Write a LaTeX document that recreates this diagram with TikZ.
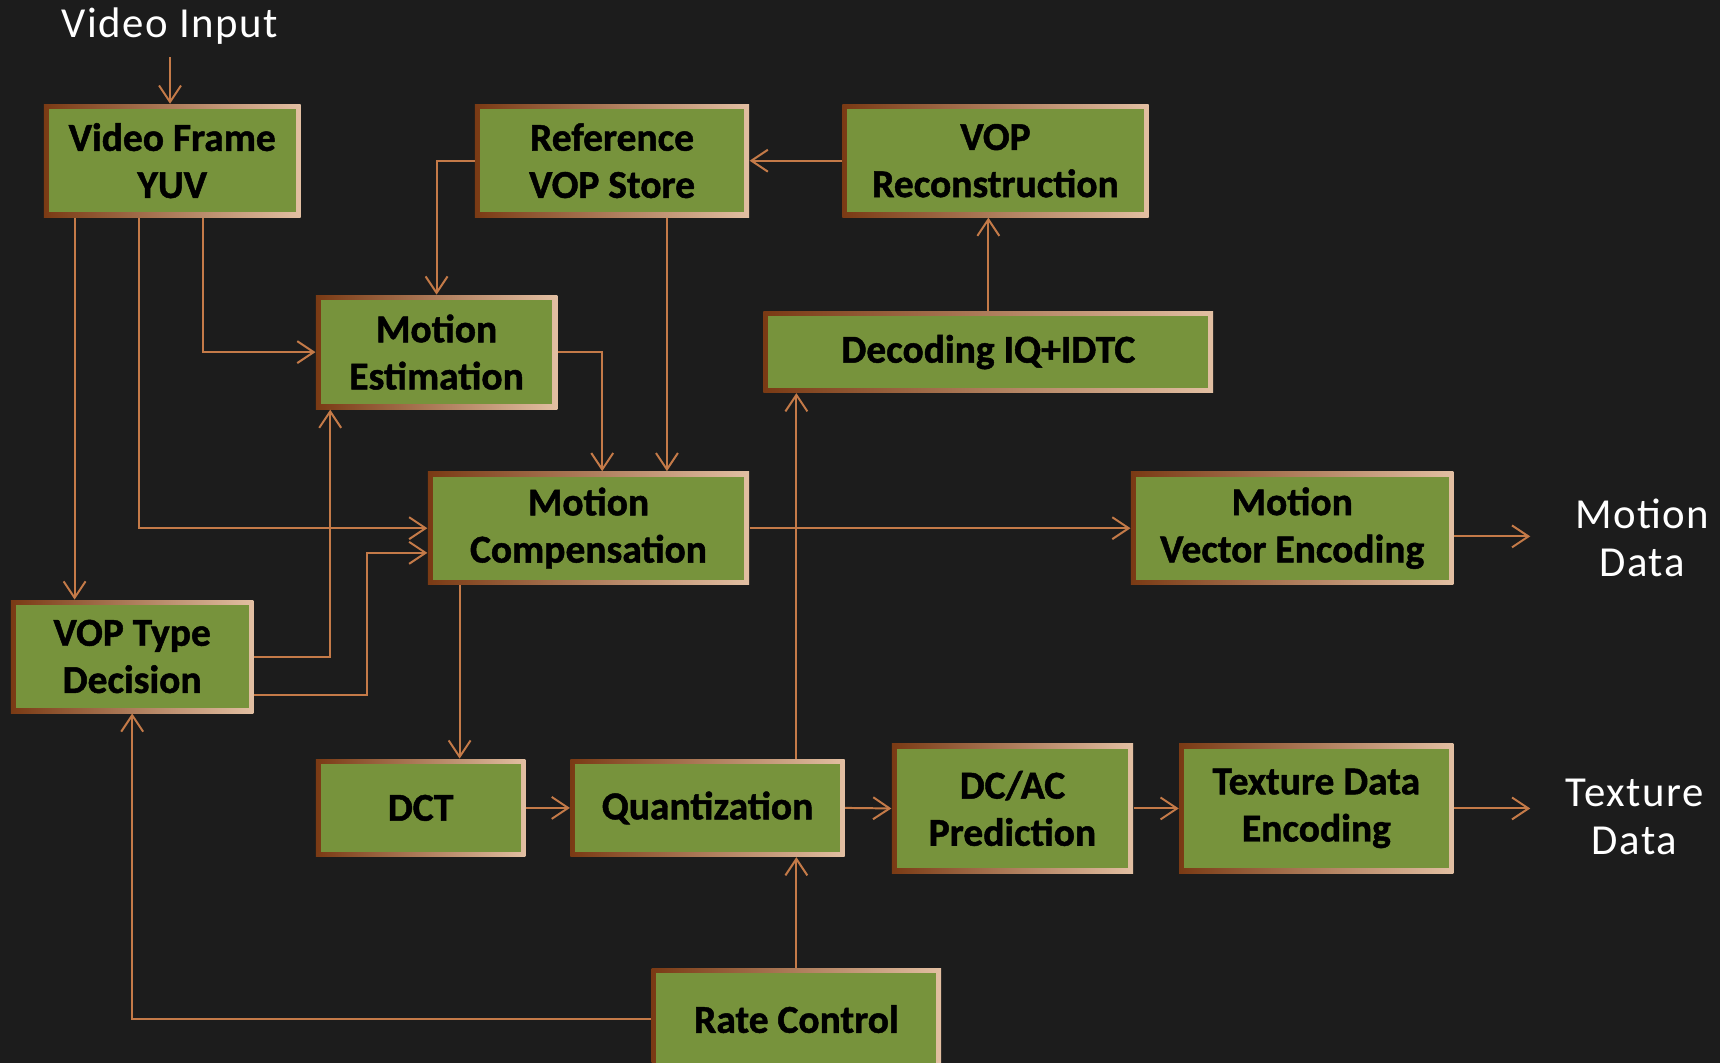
\documentclass[tikz,border=0pt]{standalone}
\usepackage{fontspec}
\setmainfont{Carlito}[BoldFeatures={FakeBold=1.2}]
\newfontfamily\labelfont{Carlito}[LetterSpace=3.5]
\usetikzlibrary{arrows.meta}
\definecolor{bg}{HTML}{1C1C1C}
\definecolor{boxgreen}{HTML}{77933C}
\definecolor{rimdark}{HTML}{7A3A14}
\definecolor{rimmid}{HTML}{C27840}
\definecolor{rimlight}{HTML}{E2BFA2}
\definecolor{wire}{HTML}{C47A48}

\begin{document}
\begin{tikzpicture}[x=0.5pt,y=-0.5pt,
  blk/.style={left color=rimdark, middle color=rimmid, right color=rimlight,
    path picture={\fill[boxgreen]
      ([xshift=2.2pt,yshift=-2.2pt]path picture bounding box.north west) rectangle
      ([xshift=-2.2pt,yshift=2.2pt]path picture bounding box.south east);},
    inner sep=0pt, align=center, text=black,
    font=\bfseries\fontsize{18}{21.5}\selectfont},
  lbl/.style={text=white, align=center, font=\labelfont\fontsize{19.5}{22}\selectfont},
  arr/.style={draw=wire, line width=0.9pt,
    -{Straight Barb[length=7.5pt,width=10pt,line width=0.9pt]}}]

\path[use as bounding box, fill=bg] (0,0) rectangle (1568,969);

% processing blocks
\node[blk, minimum width=117pt,   minimum height=51.5pt] (vf)   at (157,146.5)   {Video Frame\\YUV};
\node[blk, minimum width=125pt,   minimum height=51.5pt] (ref)  at (558,146.5)   {Reference\\VOP Store};
\node[blk, minimum width=139.5pt, minimum height=51.5pt] (rec)  at (907.5,146.5) {VOP\\Reconstruction};
\node[blk, minimum width=110pt,   minimum height=52pt]   (me)   at (398,321)     {Motion\\Estimation};
\node[blk, minimum width=205pt,   minimum height=37pt]   (dec)  at (901,321)     {Decoding IQ+IDTC};
\node[blk, minimum width=146.5pt, minimum height=51.5pt] (mc)   at (536.5,481.5) {Motion\\Compensation};
\node[blk, minimum width=147pt,   minimum height=51.5pt] (mve)  at (1178,481.5)  {Motion\\Vector Encoding};
\node[blk, minimum width=110.5pt, minimum height=51.5pt] (vtd)  at (120.5,598.5) {VOP Type\\Decision};
\node[blk, minimum width=95.5pt,  minimum height=44.5pt] (dct)  at (383.5,736.5) {DCT};
\node[blk, minimum width=125pt,   minimum height=44.5pt] (q)    at (645,736.5)   {Quantization};
\node[blk, minimum width=110pt,   minimum height=59pt]   (dcac) at (923,737)     {DC/AC\\Prediction};
\node[blk, minimum width=125pt,   minimum height=59pt]   (tex)  at (1200,737)    {Texture Data\\Encoding};
\node[blk, minimum width=132pt,   minimum height=46pt]   (rc)   at (726,929)     {Rate Control};

% outside labels
\node[lbl] (vin) at (155,24) {Video Input};
\node[lbl] (mdata) at (1497,490) {Motion\\Data};
\node[lbl] (tdata) at (1490,745) {Texture\\Data};

% routing helpers
\coordinate (vinA) at (155,52);
\coordinate (c68) at (68,0);
\coordinate (c127) at (127,0);
\coordinate (c185) at (185,0);
\coordinate (c301) at (301,0);
\coordinate (c419) at (419,0);
\coordinate (c549) at (549,0);
\coordinate (c608) at (608,0);
\coordinate (c726) at (726,0);
\coordinate (bendA) at (335,634);
\coordinate (bendB) at (335,504);
\coordinate (mvOut) at (1395,489);
\coordinate (txOut) at (1395,737);

% connectors
\draw[arr] (vinA) -- (vinA |- vf.north);
\draw[arr] (vf.south -| c68) -- (vtd.north -| c68);
\draw[arr] (vf.south -| c127) |- (mc.west);
\draw[arr] (vf.south -| c185) |- (me.west);
\draw[arr] (ref.west) -| (me.north);
\draw[arr] (ref.south -| c608) -- (mc.north -| c608);
\draw[arr] (rec.west) -- (ref.east);
\draw[arr] (dec.north) -- (dec.north |- rec.south);
\draw[arr] (me.east) -| (mc.north -| c549);
\draw[arr] (mc.east) -- (mve.west);
\draw[arr] (mve.east |- mvOut) -- (mvOut);
\draw[arr] (vtd.east) -| (me.south -| c301);
\draw[arr] (vtd.east |- bendA) -- (bendA) -- (bendB) -- (mc.west |- bendB);
\draw[arr] (mc.south -| c419) -- (dct.north -| c419);
\draw[arr] (dct.east) -- (q.west);
\draw[arr] (q.north -| c726) -- (dec.south -| c726);
\draw[arr] (q.east) -- (dcac.west);
\draw[arr] (dcac.east) -- (tex.west);
\draw[arr] (tex.east) -- (txOut);
\draw[arr] (rc.north) -- (rc.north |- q.south);
\draw[arr] (rc.west) -| (vtd.south);
\end{tikzpicture}
\end{document}
